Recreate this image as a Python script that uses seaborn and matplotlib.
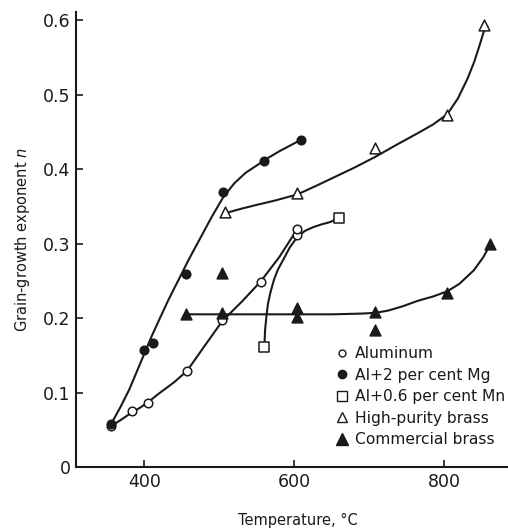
import matplotlib
matplotlib.use("Agg")
import matplotlib.pyplot as plt
import seaborn as sns
from matplotlib.lines import Line2D

# --- data (temperature in C, exponent n) ---
al_t = [356, 383, 405, 457, 504, 555, 603, 603]
al_n = [0.055, 0.075, 0.086, 0.129, 0.197, 0.248, 0.312, 0.320]
al_curve_t = [356, 370, 383, 395, 405, 420, 440, 457, 480, 504, 530, 555, 580, 603]
al_curve_n = [0.055, 0.064, 0.073, 0.080, 0.087, 0.099, 0.114, 0.129,
              0.162, 0.196, 0.222, 0.249, 0.282, 0.318]

mg_t = [356, 399, 412, 456, 505, 560, 609]
mg_n = [0.058, 0.157, 0.166, 0.259, 0.369, 0.411, 0.439]
mg_curve_t = [356, 368, 380, 390, 400, 410, 420, 432, 445, 460, 475, 490,
              505, 520, 535, 550, 565, 580, 595, 610]
mg_curve_n = [0.058, 0.080, 0.104, 0.128, 0.152, 0.176, 0.198, 0.224, 0.250,
              0.280, 0.308, 0.336, 0.362, 0.381, 0.395, 0.405, 0.415, 0.424,
              0.432, 0.440]

mn_t = [560, 660]
mn_n = [0.161, 0.335]
mn_curve_t = [560, 561, 563, 565, 568, 573, 578, 585, 594, 604, 614, 625,
              637, 648, 660]
mn_curve_n = [0.161, 0.184, 0.205, 0.220, 0.234, 0.252, 0.265, 0.278, 0.295,
              0.309, 0.317, 0.322, 0.326, 0.329, 0.335]

hp_t = [507, 604, 707, 804, 853]
hp_n = [0.342, 0.368, 0.428, 0.472, 0.594]
hp_curve_t = [512, 530, 550, 575, 604, 630, 655, 680, 707, 735, 764, 785,
              804, 818, 831, 840, 848, 854]
hp_curve_n = [0.342, 0.347, 0.352, 0.358, 0.366, 0.378, 0.390, 0.402, 0.416,
              0.432, 0.448, 0.460, 0.474, 0.495, 0.522, 0.545, 0.570, 0.590]

cb_t = [456, 504, 504, 604, 604, 708, 708, 804, 861]
cb_n = [0.206, 0.260, 0.207, 0.213, 0.201, 0.208, 0.184, 0.234, 0.299]
cb_curve_t = [456, 550, 650, 690, 708, 725, 745, 764, 785, 804, 820, 839,
              852, 861]
cb_curve_n = [0.205, 0.205, 0.205, 0.206, 0.207, 0.210, 0.216, 0.223, 0.229,
              0.236, 0.246, 0.264, 0.282, 0.299]

legend_labels = ["Aluminum", "Al+2 per cent Mg", "Al+0.6 per cent Mn",
                 "High-purity brass", "Commercial brass"]
y_ticks = [0, 0.1, 0.2, 0.3, 0.4, 0.5, 0.6]
y_tick_labels = ["0", "0.1", "0.2", "0.3", "0.4", "0.5", "0.6"]
x_ticks = [400, 600, 800]

sns.set_style("ticks")
plt.rcParams['font.family'] = ['DejaVu Sans']
INK = "#1a1a1a"

fig = plt.figure(figsize=(5.08, 5.30), dpi=100)
ax = fig.add_axes([0.1496, 0.1189, 0.873, 0.8585])

# fitted curves
for ct, cn in [(al_curve_t, al_curve_n), (mg_curve_t, mg_curve_n),
               (mn_curve_t, mn_curve_n), (hp_curve_t, hp_curve_n),
               (cb_curve_t, cb_curve_n)]:
    sns.lineplot(x=ct, y=cn, ax=ax, color=INK, lw=1.5, estimator=None,
                 sort=False, zorder=2)

# markers
series = [
    (al_t, al_n, "o", "white", 38),
    (mg_t, mg_n, "o", INK, 38),
    (mn_t, mn_n, "s", "white", 60),
    (hp_t, hp_n, "^", "white", 60),
    (cb_t, cb_n, "^", INK, 60),
]
for t, n, m, fc, s in series:
    sns.scatterplot(x=t, y=n, ax=ax, marker=m, s=s, color=fc,
                    edgecolor=INK, linewidth=1.1, zorder=3)

ax.set_xlim(309, 900)
ax.set_ylim(0, 0.611)
ax.set_yticks(y_ticks)
ax.set_yticklabels(y_tick_labels)
ax.set_xticks(x_ticks)
ax.tick_params(direction="in", length=5, width=1.2, colors=INK,
               labelsize=12.5, pad=4)
sns.despine(ax=ax)
for sp in ["left", "bottom"]:
    ax.spines[sp].set_linewidth(1.5)
    ax.spines[sp].set_color(INK)

ax.set_xlabel("Temperature, °C", fontsize=10.5, color=INK, labelpad=16)
ax.set_ylabel("Grain-growth exponent $n$", fontsize=10.5, color=INK, labelpad=8)

handles = [
    Line2D([], [], ls="none", marker="o", ms=5, mfc="white", mec=INK, mew=1),
    Line2D([], [], ls="none", marker="o", ms=6, mfc=INK, mec=INK),
    Line2D([], [], ls="none", marker="s", ms=6.5, mfc="white", mec=INK, mew=1),
    Line2D([], [], ls="none", marker="^", ms=7, mfc="white", mec=INK, mew=1),
    Line2D([], [], ls="none", marker="^", ms=8, mfc=INK, mec=INK),
]
fig.legend(handles, legend_labels, loc="upper left",
           bbox_to_anchor=(0.660, 0.347), frameon=False, fontsize=11.2,
           handlelength=0.85, handletextpad=0.4, labelspacing=0.42,
           borderaxespad=0, borderpad=0, labelcolor=INK)

fig.savefig("out.png", dpi=100)
